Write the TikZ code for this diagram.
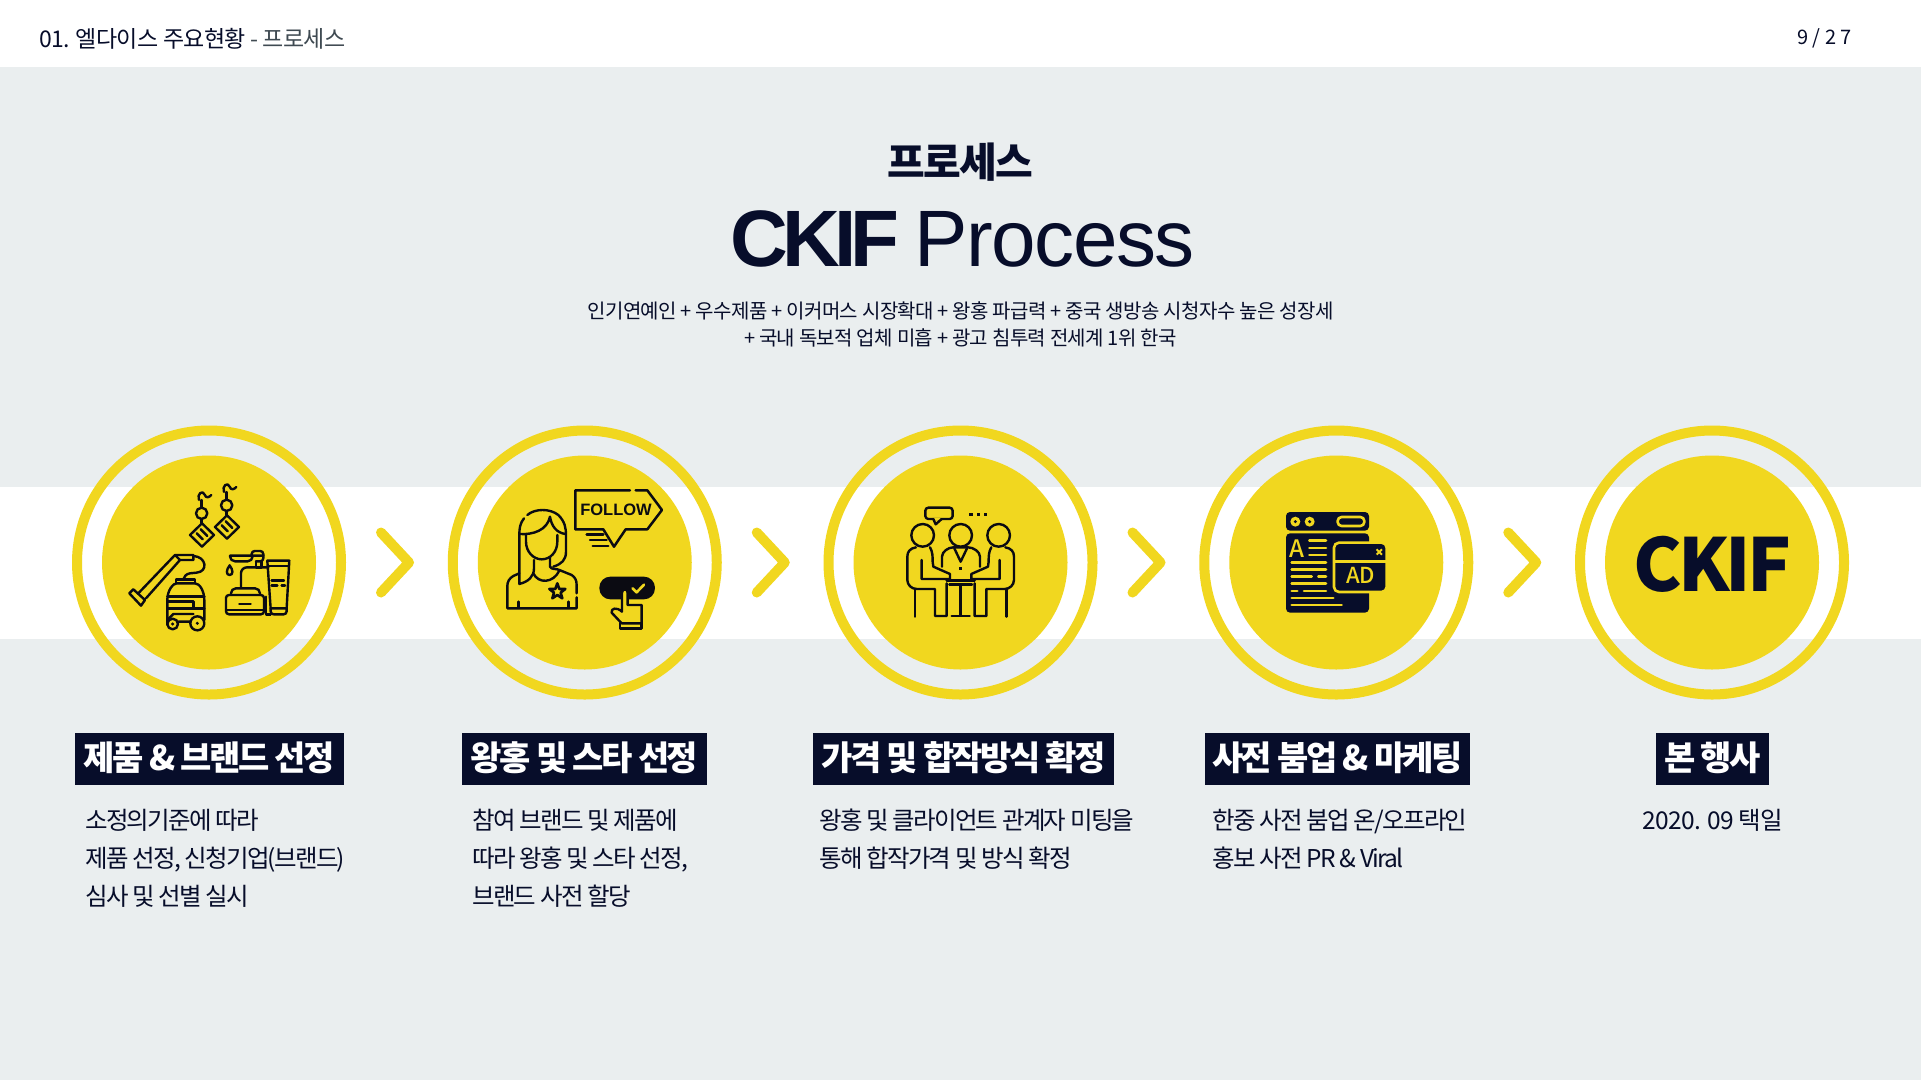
\documentclass[tikz,border=0pt]{standalone}
\usepackage{fontspec}
\usepackage{xcolor}
\usetikzlibrary{shapes}
\setmainfont{Noto Sans CJK KR}
\newfontfamily\titlefont[LetterSpace=-1.8,BoldFeatures={LetterSpace=-7.2}]{Liberation Sans}
\newfontfamily\krfont[LetterSpace=-4]{Noto Sans CJK KR}
\newfontfamily\headfont[LetterSpace=-7.5]{Noto Sans CJK KR}
\newfontfamily\logofont[LetterSpace=-5.5]{Noto Sans CJK KR}
\newfontfamily\bodyfont[LetterSpace=-7]{Noto Sans CJK KR}
\newfontfamily\datefont[LetterSpace=-3]{Noto Sans CJK KR}
\newfontfamily\subfont[LetterSpace=-3]{Noto Sans CJK KR}
\newfontfamily\topfont[LetterSpace=-2.8]{Noto Sans CJK KR}
\newfontfamily\iconfont{Noto Sans CJK KR Medium}
\newfontfamily\followfont{Liberation Sans}
\definecolor{navy}{HTML}{070D2A}
\definecolor{paleback}{HTML}{EAEEEF}
\definecolor{lemon}{HTML}{F1D71F}
\definecolor{slate}{HTML}{3F4A52}
\definecolor{inkline}{HTML}{0B0B12}

\begin{document}
\begin{tikzpicture}[x=1pt,y=-1pt]
        \tikzset{ring/.style = {circle, draw=lemon, line width=10pt, minimum size=264pt, inner sep=0pt}}
        \tikzset{disc/.style = {circle, fill=lemon, minimum size=214pt, inner sep=0pt}}
        \tikzset{chevron/.style = {draw=lemon, line width=10pt, line cap=round, line join=round}}
        \tikzset{tagbox/.style = {fill=navy, text=white, minimum height=52pt, inner sep=0pt,
            text height=27pt, text depth=4pt, font={\headfont\bfseries\fontsize{34pt}{36pt}\selectfont}}}
        \tikzset{bodytext/.style = {text=navy, inner sep=0pt, anchor=north west, align=left,
            font={\bodyfont\fontsize{24.5pt}{38pt}\selectfont}}}
        \tikzset{ink/.style = {draw=inkline, line width=2.4pt, line cap=round, line join=round}}
        \tikzset{mark1/.style = {draw=lemon, line width=2.6pt, line cap=round}}
        \useasboundingbox (0,0) rectangle (1921,1080);

        % background
        \fill[paleback] (0,0) rectangle (1921,1080);
        \fill[white] (0,0) rectangle (1921,66.5);
        \fill[white] (0,486.5) rectangle (1921,638.5);

        % header
        \node[anchor=west, inner sep=0pt, text=navy, font={\topfont\fontsize{23pt}{26pt}\selectfont}] (head) at (39,38.5)
            {01. 엘다이스 주요현황 \textcolor{slate}{- 프로세스}};
        \node[anchor=east, inner sep=0pt, text=navy, font={\fontsize{20pt}{24pt}\selectfont}] (page) at (1852,38) {9 / 2 7};

        % title
        \node[text=navy, inner sep=0pt, font={\krfont\bfseries\fontsize{41pt}{44pt}\selectfont}] (kr) at (960.5,162) {프로세스};
        \node[text=navy, inner sep=0pt, font={\titlefont\fontsize{80pt}{84pt}\selectfont}] (title) at (962.5,239) {\textbf{CKIF} Process};
        \node[text=navy, inner sep=0pt, align=center, font={\subfont\fontsize{20pt}{27pt}\selectfont}] (sub) at (960.5,324.5)
            {인기연예인 + 우수제품 + 이커머스 시장확대 + 왕홍 파급력 + 중국 생방송 시청자수 높은 성장세\\
             + 국내 독보적 업체 미흡 + 광고 침투력 전세계 1위 한국};

        % chevrons
        \foreach \n in {0,1,2,3}
            \draw[chevron] ({381+375.75*\n},532.5) -- ({409+375.75*\n},562.5) -- ({381+375.75*\n},592.5);

        % circles
        \foreach \x/\n in {209/1,584.75/2,960.5/3,1336.25/4,1712/5} {
            \node[ring] (c\n) at (\x,562.5) {};
            \node[disc] (d\n) at (\x,562.5) {};
        }
        \node[text=navy, inner sep=0pt, font={\logofont\bfseries\fontsize{73pt}{78pt}\selectfont}] (ckif) at (1712.5,564) {CKIF};

        % labels
        \node[tagbox, minimum width=268.5pt] (t1) at (209.25,758.5) {제품 \& 브랜드 선정};
        \node[tagbox, minimum width=245pt] (t2) at (584.5,758.5) {왕홍 및 스타 선정};
        \node[tagbox, minimum width=301pt] (t3) at (963.5,758.5) {가격 및 합작방식 확정};
        \node[tagbox, minimum width=265pt] (t4) at (1337.5,758.5) {사전 붐업 \& 마케팅};
        \node[tagbox, minimum width=113pt] (t5) at (1712.5,758.5) {본 행사};

        % texts
        \node[bodytext] (b1) at (85,809) {소정의기준에 따라\\제품 선정, 신청기업(브랜드)\\심사 및 선별 실시};
        \node[bodytext] (b2) at (472,809) {참여 브랜드 및 제품에\\따라 왕홍 및 스타 선정,\\브랜드 사전 할당};
        \node[bodytext] (b3) at (819,809) {왕홍 및 클라이언트 관계자 미팅을\\통해 합작가격 및 방식 확정};
        \node[bodytext] (b4) at (1212,809) {한중 사전 붐업 온/오프라인\\홍보 사전 PR \& Viral};
        \node[bodytext, anchor=north, font={\datefont\fontsize{24.5pt}{38pt}\selectfont}] (b5) at (1713,809) {2020. 09 택일};

        % icon one
        \begin{scope}[shift={(60,420)},x=0.3333pt,y=-0.3333pt]
            \foreach \dx/\dy in {0/0,75/-24} {
                \begin{scope}[shift={(\dx,\dy)}]
                    \draw[ink] (417,240) .. controls (410,222) and (428,208) .. (434,224) .. controls (438,236) and (448,232) .. (454,225);
                    \draw[ink] (425,240) -- (425,263) (425,297) -- (425,310);
                    \draw[ink] (425,280) circle (17);
                    \draw[ink] (426,310) -- (462,345) -- (426,380) -- (390,345) -- cycle;
                    \draw[ink] (410,340) -- (428,358) (422,328) -- (442,348);
                \end{scope}
            }
            \draw[ink] (208,520) -- (220,508) -- (255,540) -- (243,557) -- cycle;
            \draw[ink] (235,520) -- (345,405) -- (400,405) -- (400,420) -- (360,420) -- (258,535);
            \draw[ink] (345,405) -- (360,420);
            \draw[ink] (400,408) .. controls (440,410) and (445,455) .. (410,458) -- (390,460) .. controls (378,462) and (372,470) .. (370,478);
            \draw[ink] (348,490) -- (348,478) -- (405,478) -- (405,490);
            \draw[ink] (322,615) -- (322,540) .. controls (322,510) and (340,490) .. (350,490) -- (405,490) .. controls (420,490) and (433,515) .. (433,540) -- (433,600);
            \draw[ink] (322,530) -- (433,530) (322,545) -- (400,545) -- (400,565) -- (433,565) (322,565) -- (400,565);
            \draw[ink] (322,600) -- (340,582) -- (400,582) (355,605) -- (392,605);
            \draw[ink] (338,612) circle (16) (412,610) circle (21);
            \fill[inkline] (338,612) circle (5) (412,610) circle (5);
            \draw[ink, rounded corners=5pt] (510,407) -- (610,407) (510,407) -- (510,424) -- (578,424) -- (578,407);
            \draw[ink, rounded corners=3pt] (575,407) -- (575,393) -- (610,393) -- (610,424) -- (588,424);
            \draw[ink] (588,424) -- (588,442) -- (605,442) -- (605,424);
            \draw[ink, rounded corners=6pt] (543,500) -- (543,442) -- (625,442);
            \draw[ink] (509,436) .. controls (498,450) and (498,465) .. (509,465) .. controls (520,465) and (520,450) .. (509,436) -- cycle;
            \draw[ink] (622,422) -- (688,422) -- (680,565) -- (632,565) -- cycle;
            \draw[ink] (624,438) -- (686,438) (635,482) -- (672,482) (635,497) -- (652,497) (665,497) -- (675,497);
            \draw[ink, rounded corners=3pt] (632,565) -- (632,583) -- (680,583) -- (680,565);
            \draw[ink, rounded corners=3pt] (498,525) -- (612,525) -- (612,583) -- (498,583) -- cycle;
            \draw[ink, rounded corners=5pt] (513,525) -- (513,505) -- (600,505) -- (600,525);
            \draw[ink] (498,570) -- (612,570) (538,552) -- (572,552) (618,530) -- (618,583) -- (632,583);
        \end{scope}

        % icon two
        \begin{scope}[shift={(440,420)},x=0.3333pt,y=-0.3333pt]
            \draw[ink] (262,285) .. controls (285,265) and (330,265) .. (355,285) .. controls (375,305) and (378,325) .. (378,345) -- (378,395) .. controls (378,420) and (365,432) .. (340,440);
            \draw[ink] (252,295) .. controls (240,310) and (238,325) .. (238,345) -- (238,492) .. controls (265,485) and (282,470) .. (282,445) -- (282,420);
            \draw[ink] (238,342) .. controls (280,345) and (322,330) .. (330,290) .. controls (335,320) and (350,338) .. (376,342);
            \draw[ink] (258,345) -- (258,365) .. controls (258,395) and (280,418) .. (305,418) .. controls (332,418) and (352,395) .. (352,365) -- (352,345);
            \draw[ink] (330,412) -- (330,440) .. controls (335,450) and (350,445) .. (358,450) -- (395,465) .. controls (405,472) and (410,480) .. (410,495) -- (410,520);
            \draw[ink] (280,460) .. controls (295,492) and (340,490) .. (358,452);
            \draw[ink] (238,460) -- (220,468) .. controls (208,475) and (202,485) .. (202,498) -- (202,565) -- (410,565) -- (410,532);
            \draw[ink] (235,545) -- (235,563) (385,545) -- (385,563);
            \draw[ink, line width=2.6pt] (352,490) -- (358,507) -- (376,507) -- (362,518) -- (367,535) -- (352,525) -- (337,535) -- (342,518) -- (328,507) -- (346,507) -- cycle;
            \draw[ink, line width=2.5pt] (570,211) -- (406,211) -- (406,328) -- (490,328) -- (522,380) -- (557,328) -- (622,328) -- (666,270) -- (622,211) -- (587,211);
            \node[text=inkline, inner sep=0pt, font={\followfont\bfseries\fontsize{16.5pt}{19pt}\selectfont}] (follow) at (528,270) {FOLLOW};
            \draw[ink] (440,343) -- (490,343) (450,360) -- (500,360) (458,378) -- (505,378);
            \fill[inkline, rounded corners=11pt] (478,470) rectangle (645,538);
            \draw[mark1, line join=round] (578,505) -- (590,517) -- (612,494);
            \fill[lemon] (548,510) rectangle (562,570);
            \draw[ink] (546,575) -- (546,518) .. controls (546,505) and (563,505) .. (563,518) -- (563,555) -- (605,555) -- (605,610) -- (545,610) -- (515,578) .. controls (512,565) and (530,560) .. (546,575);
            \draw[ink] (540,610) -- (540,625) -- (605,625) -- (605,610);
        \end{scope}

        % icon three
        \begin{scope}[shift={(820,420)},x=0.3333pt,y=-0.3333pt]
            \draw[ink] (308,346) circle (34) (422,346) circle (34) (536,346) circle (34);
            \draw[ink, rounded corners=3pt] (316,263) rectangle (398,297);
            \fill[lemon] (342,293) rectangle (362,300);
            \draw[ink] (340,297) -- (347,313) -- (365,297);
            \foreach \dotx in {453,475,497}
                \fill[inkline] (\dotx-5,278) rectangle (\dotx+5,288);
            % left
            \draw[ink] (288,382) .. controls (270,385) and (262,395) .. (262,410) -- (262,480) .. controls (262,495) and (275,507) .. (290,507) -- (345,507) -- (345,588) -- (380,588) -- (380,490);
            \draw[ink] (330,382) .. controls (338,395) and (338,410) .. (338,425) -- (340,440) -- (390,462) -- (390,477) -- (305,477) -- (305,420);
            \draw[ink] (285,507) -- (285,590);
            % right
            \draw[ink] (556,382) .. controls (574,385) and (582,395) .. (582,410) -- (582,480) .. controls (582,495) and (569,507) .. (554,507) -- (499,507) -- (499,588) -- (464,588) -- (464,490);
            \draw[ink] (514,382) .. controls (506,395) and (506,410) .. (506,425) -- (504,440) -- (454,462) -- (454,477) -- (539,477) -- (539,420);
            \draw[ink] (559,507) -- (559,590);
            % middle
            \draw[ink] (366,440) -- (366,410) .. controls (366,395) and (385,382) .. (400,382) -- (444,382) .. controls (460,382) and (480,395) .. (480,410) -- (480,440);
            \draw[ink] (403,385) -- (422,425) -- (441,385);
            \fill[inkline] (417,440) rectangle (427,450);
            \draw[ink] (380,481) -- (464,481) (388,493) -- (456,493) (422,493) -- (422,586) (395,588) -- (449,588);
        \end{scope}

        % icon four
        \begin{scope}[shift={(1190,420)},x=0.3333pt,y=-0.3333pt]
            \fill[navy, rounded corners=4pt] (288,276) rectangle (537,332);
            \fill[navy, rounded corners=4pt] (288,340) rectangle (537,578);
            \fill[lemon] (316,305) circle (15) (359,305) circle (15);
            \fill[navy] (316,305) circle (5) (359,305) circle (5);
            \draw[mark1, rounded corners=4pt] (443,291) rectangle (523,318);
            \node[text=lemon, inner sep=0pt, font={\iconfont\fontsize{24pt}{26pt}\selectfont}] (lettera) at (322,385) {A};
            \foreach \ya/\xa/\xb in {362/358/408,384/358/408,405/358/408,427/305/408,448/305/408,469/305/365,469/385/408,491/305/408,513/305/322,513/342/408,534/305/430,555/305/455}
                \draw[mark1] (\xa,\ya) -- (\xb,\ya);
            \draw[mark1, fill=navy, rounded corners=5pt] (432,368) rectangle (590,516);
            \draw[mark1] (436,425) -- (590,425);
            \draw[mark1, line cap=butt, line width=2pt] (560,388) -- (576,404) (576,388) -- (560,404);
            \node[text=lemon, inner sep=0pt, font={\iconfont\fontsize{22pt}{24pt}\selectfont}] (adtext) at (512,467) {AD};
        \end{scope}
\end{tikzpicture}
\end{document}
